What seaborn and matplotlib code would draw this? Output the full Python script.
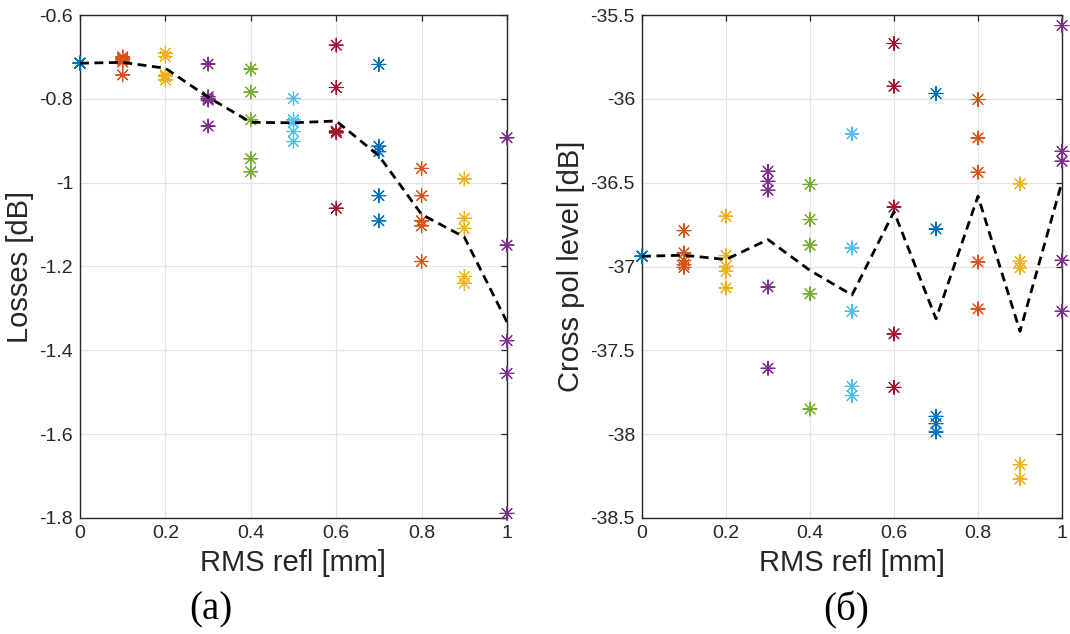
import numpy as np
import pandas as pd
import matplotlib
matplotlib.use("Agg")
import matplotlib.pyplot as plt
from matplotlib.ticker import FuncFormatter
import seaborn as sns

# ---------------- data ----------------
rms_levels = [0.0, 0.1, 0.2, 0.3, 0.4, 0.5, 0.6, 0.7, 0.8, 0.9, 1.0]

losses_db = [
    [-0.715, -0.715, -0.715, -0.715, -0.715],
    [-0.700, -0.703, -0.707, -0.712, -0.743],
    [-0.691, -0.699, -0.743, -0.747, -0.755],
    [-0.717, -0.795, -0.800, -0.803, -0.865],
    [-0.729, -0.784, -0.850, -0.943, -0.974],
    [-0.799, -0.850, -0.857, -0.878, -0.902],
    [-0.672, -0.773, -0.877, -0.881, -1.061],
    [-0.718, -0.913, -0.926, -1.031, -1.091],
    [-0.966, -1.031, -1.091, -1.103, -1.188],
    [-0.991, -1.085, -1.109, -1.224, -1.240],
    [-0.893, -1.149, -1.377, -1.455, -1.789],
]

crosspol_db = [
    [-36.939, -36.939, -36.939, -36.939, -36.939],
    [-36.786, -36.919, -36.965, -36.989, -37.005],
    [-36.700, -36.935, -36.999, -37.029, -37.128],
    [-36.432, -36.492, -36.545, -37.122, -37.607],
    [-36.511, -36.720, -36.873, -37.163, -37.850],
    [-36.209, -36.889, -37.267, -37.715, -37.770],
    [-35.670, -35.925, -36.645, -37.402, -37.721],
    [-35.968, -36.776, -37.894, -37.937, -37.987],
    [-36.004, -36.233, -36.438, -36.973, -37.253],
    [-36.507, -36.969, -37.008, -38.182, -38.267],
    [-35.563, -36.313, -36.372, -36.963, -37.267],
]

x_ticks = [0, 0.2, 0.4, 0.6, 0.8, 1]
loss_ticks = [-0.6, -0.8, -1.0, -1.2, -1.4, -1.6, -1.8]
xpol_ticks = [-35.5, -36, -36.5, -37, -37.5, -38, -38.5]

x_label = "RMS refl [mm]"
loss_label = "Losses [dB]"
xpol_label = "Cross pol level [dB]"
panel_labels = ["(а)", "(б)"]

matlab_colors = ["#0072BD", "#D95319", "#EDB120", "#7E2F8E",
                 "#77AC30", "#4DBEEE", "#A2142F"]

# ---------------- build long table ----------------
rows = []
for lvl, lv, xv in zip(rms_levels, losses_db, crosspol_db):
    for a, b in zip(lv, xv):
        rows.append({"rms": lvl, "grp": f"{lvl:.1f}", "loss": a, "xpol": b})
df = pd.DataFrame(rows)
grp_order = [f"{v:.1f}" for v in rms_levels]
palette = {g: matlab_colors[i % len(matlab_colors)] for i, g in enumerate(grp_order)}

# ---------------- style ----------------
sns.set_style("white")
plt.rcParams["font.family"] = ["Liberation Sans", "DejaVu Sans"]
plt.rcParams["axes.unicode_minus"] = False

axis_col = "#262626"
fig = plt.figure(figsize=(10.7, 6.34), dpi=100)
ax1 = fig.add_axes([80 / 1070, 116 / 634, 427 / 1070, 503 / 634])
ax2 = fig.add_axes([642 / 1070, 116 / 634, 420 / 1070, 503 / 634])

fmt = FuncFormatter(lambda v, p: f"{v:g}")
asterisk = (8, 2, 0)

for ax, col, ticks, lab in [(ax1, "loss", loss_ticks, loss_label),
                            (ax2, "xpol", xpol_ticks, xpol_label)]:
    sns.scatterplot(data=df, x="rms", y=col, hue="grp", hue_order=grp_order,
                    palette=palette, marker=asterisk, s=100, linewidth=0.8,
                    legend=False, ax=ax, clip_on=False, zorder=3)
    sns.lineplot(data=df, x="rms", y=col, estimator="mean", errorbar=None,
                 color="black", linewidth=2.0, linestyle=(0, (3.2, 2.0)),
                 ax=ax, zorder=4)
    ax.set_xlim(0, 1)
    ax.set_ylim(min(ticks), max(ticks))
    ax.set_xticks(x_ticks)
    ax.set_yticks(ticks)
    ax.xaxis.set_major_formatter(fmt)
    ax.yaxis.set_major_formatter(fmt)
    ax.grid(True, color="#e3e3e3", linewidth=0.9, zorder=0)
    ax.set_axisbelow(True)
    for sp in ax.spines.values():
        sp.set_visible(True)
        sp.set_color(axis_col)
        sp.set_linewidth(1.0)
    ax.tick_params(direction="in", length=4, width=0.9, top=True, right=True,
                   colors=axis_col, labelsize=14, pad=5)
    ax.set_xlabel(x_label, fontsize=21, color=axis_col, labelpad=5)
    ax.set_ylabel(lab, fontsize=21, color=axis_col, labelpad=4)

fig.text(211 / 1070, 1 - 610 / 634, panel_labels[0], ha="center", va="center",
         fontsize=28, family=["Liberation Serif", "DejaVu Serif"], color="black")
fig.text(846 / 1070, 1 - 610 / 634, panel_labels[1], ha="center", va="center",
         fontsize=28, family=["Liberation Serif", "DejaVu Serif"], color="black")

fig.savefig("out.png", dpi=100, facecolor="white")
